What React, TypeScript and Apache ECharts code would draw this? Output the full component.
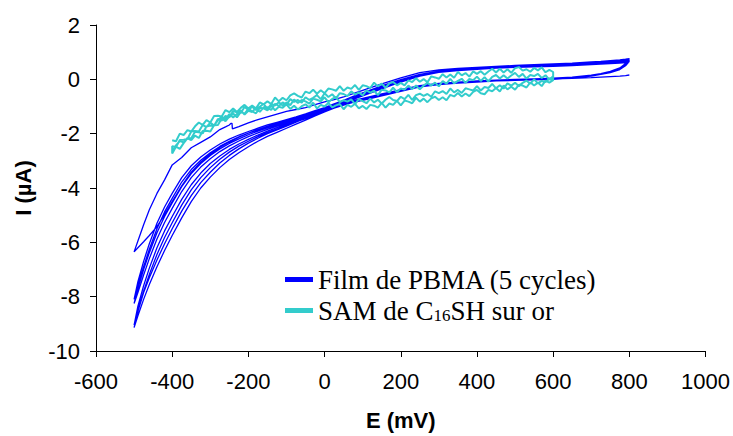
import React, { useEffect, useRef } from "react";
import * as echarts from "echarts";

// ---------- PBMA film, 5 cycles (E in mV, I in µA) ----------
// shared potential grid for the sweeps
const PB_E = [-500,-490,-475,-460,-440,-420,-400,-375,-350,-325,-300,-275,-250,-225,-200,-175,-150,-125,-100,-75,-50,-25,0,
  25,50,75,100,125,150,175,200,250,300,350,400,450,500,550,600,650,700,725,750,775,790,800];

// cathodic sweeps (read along E ascending, traversed 800 -> -500)
const C1_I = [-6.35,-6.2,-5.98,-5.75,-5.42,-4.98,-4.5,-3.92,-3.42,-3.05,-2.75,-2.5,-2.3,-2.13,-1.98,-1.85,-1.73,-1.62,-1.52,-1.42,-1.32,-1.2,-1.08,
  -0.98,-0.88,-0.79,-0.71,-0.63,-0.55,-0.47,-0.39,-0.25,-0.17,-0.12,-0.08,-0.05,-0.03,0.0,0.02,0.04,0.06,0.08,0.1,0.12,0.14,0.16];
const C2_I = [-8.1,-7.6,-6.9,-6.25,-5.5,-4.88,-4.38,-3.78,-3.32,-2.98,-2.7,-2.47,-2.28,-2.12,-1.98,-1.86,-1.74,-1.63,-1.53,-1.43,-1.32,-1.2,-1.08,
  -0.97,-0.87,-0.78,-0.7,-0.62,-0.54,-0.46,-0.38,-0.23,-0.15,-0.1,-0.06,-0.03,0.0,0.02,0.04,0.08,0.15,0.21,0.29,0.42,0.58,0.76];
const C3_I = [-8.25,-7.85,-7.2,-6.6,-5.88,-5.27,-4.75,-4.13,-3.62,-3.23,-2.92,-2.66,-2.45,-2.27,-2.11,-1.97,-1.84,-1.72,-1.61,-1.5,-1.38,-1.26,-1.12,
  -1.0,-0.9,-0.81,-0.73,-0.65,-0.57,-0.49,-0.4,-0.24,-0.17,-0.12,-0.08,-0.04,-0.02,0.0,0.02,0.07,0.14,0.2,0.27,0.39,0.54,0.72];
const C4_I = [-9.05,-8.5,-7.8,-7.18,-6.45,-5.82,-5.28,-4.63,-4.07,-3.62,-3.25,-2.94,-2.68,-2.46,-2.28,-2.11,-1.96,-1.83,-1.7,-1.57,-1.45,-1.31,-1.17,
  -1.03,-0.92,-0.83,-0.75,-0.67,-0.59,-0.51,-0.42,-0.26,-0.18,-0.13,-0.09,-0.05,-0.03,-0.01,0.01,0.06,0.13,0.19,0.26,0.37,0.52,0.69];
const C5_I = [-9.14,-8.7,-8.1,-7.55,-6.9,-6.3,-5.75,-5.1,-4.5,-4.0,-3.6,-3.25,-2.95,-2.7,-2.48,-2.28,-2.1,-1.95,-1.8,-1.65,-1.5,-1.35,-1.2,
  -1.06,-0.95,-0.85,-0.77,-0.69,-0.61,-0.53,-0.44,-0.28,-0.19,-0.14,-0.1,-0.06,-0.04,-0.02,0.0,0.05,0.12,0.18,0.25,0.36,0.5,0.66];

// first anodic sweep (own grid, with the small notch near -245 mV)
const A1_E = [-500,-490,-475,-460,-440,-420,-400,-375,-350,-325,-300,-275,-260,-250,-246,-243,-242,-225,-200,-175,
  -150,-125,-100,-75,-50,-25,0,25,50,75,100,125,150,175,200,250,300,350,400,450,500,550,600,650,700,725,750,775,790,800];
const A1_I = [-6.35,-5.95,-5.35,-4.8,-4.2,-3.7,-3.15,-2.88,-2.52,-2.32,-2.12,-1.85,-1.75,-1.68,-1.62,-1.62,-1.82,-1.74,-1.6,-1.48,
  -1.38,-1.28,-1.18,-1.11,-1.04,-0.93,-0.83,-0.75,-0.65,-0.53,-0.41,-0.29,-0.17,-0.06,0.05,0.25,0.35,0.4,0.44,0.48,0.51,0.54,0.57,0.6,0.64,0.66,0.69,0.72,0.74,0.76];

// anodic sweeps 2-5 (traversed -500 -> 800)
const A2_I = [-8.1,-7.45,-6.7,-6.05,-5.3,-4.7,-4.2,-3.62,-3.18,-2.86,-2.6,-2.38,-2.2,-2.05,-1.92,-1.8,-1.68,-1.58,-1.48,-1.38,-1.27,-1.15,-1.04,
  -0.9,-0.77,-0.63,-0.5,-0.37,-0.24,-0.12,-0.01,0.18,0.3,0.36,0.41,0.45,0.48,0.51,0.54,0.57,0.61,0.63,0.65,0.68,0.7,0.72];
const A3_I = [-8.25,-7.7,-7.0,-6.38,-5.65,-5.05,-4.55,-3.95,-3.47,-3.1,-2.8,-2.56,-2.36,-2.19,-2.04,-1.91,-1.79,-1.68,-1.57,-1.46,-1.35,-1.23,-1.1,
  -0.96,-0.82,-0.68,-0.54,-0.41,-0.28,-0.16,-0.04,0.16,0.29,0.35,0.4,0.44,0.47,0.5,0.52,0.55,0.58,0.6,0.62,0.65,0.67,0.69];
const A4_I = [-9.05,-8.35,-7.6,-6.95,-6.2,-5.58,-5.05,-4.42,-3.88,-3.45,-3.1,-2.82,-2.58,-2.38,-2.21,-2.05,-1.91,-1.78,-1.66,-1.54,-1.42,-1.29,-1.15,
  -1.0,-0.86,-0.72,-0.58,-0.45,-0.32,-0.19,-0.07,0.14,0.27,0.33,0.38,0.42,0.45,0.48,0.5,0.53,0.56,0.58,0.6,0.62,0.64,0.66];
const A5_I = [-9.14,-8.55,-7.85,-7.3,-6.65,-6.05,-5.5,-4.85,-4.28,-3.8,-3.42,-3.08,-2.8,-2.56,-2.35,-2.17,-2.0,-1.86,-1.72,-1.58,-1.43,-1.28,-1.14,
  -1.0,-0.87,-0.74,-0.61,-0.48,-0.35,-0.22,-0.1,0.12,0.26,0.32,0.37,0.41,0.44,0.46,0.48,0.51,0.54,0.56,0.58,0.6,0.62,0.64];

// ---------- SAM of C16SH on gold (noisy) ----------
const SAM_E = [-400,-390,-380,-370,-360,-350,-340,-330,-320,-310,-300,-290,-280,-270,-260,-250,-240,-230,-220,-210,
  -200,-190,-180,-170,-160,-150,-140,-130,-120,-110,-100,-90,-80,-70,-60,-50,-40,-30,-20,-10,
  0,10,20,30,40,50,60,70,80,90,100,110,120,130,140,150,160,170,180,190,
  200,210,220,230,240,250,260,270,280,290,300,310,320,330,340,350,360,370,380,390,
  400,410,420,430,440,450,460,470,480,490,500,510,520,530,540,550,560,570,580,590,600];
const SAM_U1 = [-2.24,-2.28,-2.0,-2.05,-1.87,-1.92,-1.73,-1.59,-1.68,-1.5,
  -1.59,-1.35,-1.34,-1.37,-1.13,-1.21,-1.07,-1.2,-1.05,-0.94,
  -1.07,-0.97,-1.07,-0.85,-0.92,-0.81,-0.91,-0.67,-0.81,-0.68,
  -0.77,-0.59,-0.52,-0.61,-0.67,-0.45,-0.51,-0.38,-0.53,-0.4,
  -0.51,-0.34,-0.37,-0.42,-0.25,-0.42,-0.3,-0.35,-0.21,-0.39,
  -0.22,-0.25,-0.32,-0.12,-0.26,-0.16,-0.31,-0.15,-0.1,-0.22,
  -0.13,-0.22,-0.04,-0.1,0.04,-0.09,0.01,-0.11,0.11,0.07,
  0.02,0.19,0.07,0.18,0.06,0.27,0.15,0.23,0.1,0.29,
  0.2,0.3,0.17,0.29,0.39,0.25,0.39,0.25,0.37,0.24,
  0.41,0.45,0.32,0.37,0.28,0.42,0.33,0.44,0.26,0.35,0.27];
const SAM_LW = [-2.73,-2.48,-2.56,-2.35,-2.17,-2.24,-2.07,-2.16,-1.9,-1.89,
  -1.92,-1.69,-1.68,-1.44,-1.54,-1.36,-1.26,-1.4,-1.2,-1.26,
  -1.09,-1.18,-1.25,-1.05,-1.07,-1.14,-0.97,-1.14,-1.01,-1.05,
  -0.92,-1.09,-0.97,-1.11,-0.99,-0.92,-1.04,-0.86,-1.07,-0.94,
  -1.0,-0.87,-1.03,-0.96,-0.91,-1.1,-0.94,-1.01,-0.9,-1.07,
  -0.98,-1.09,-0.94,-0.97,-1.04,-0.87,-1.04,-0.89,-0.94,-0.79,
  -0.96,-0.78,-0.82,-0.88,-0.68,-0.82,-0.71,-0.84,-0.7,-0.64,
  -0.76,-0.66,-0.77,-0.57,-0.63,-0.5,-0.63,-0.52,-0.62,-0.46,
  -0.39,-0.51,-0.55,-0.39,-0.44,-0.32,-0.45,-0.23,-0.37,-0.27,
  -0.38,-0.2,-0.23,-0.3,-0.11,-0.23,-0.12,-0.25,-0.05,-0.12,-0.03];
const SAM_U2 = [-2.46,-2.49,-2.23,-2.22,-2.2,-1.92,-1.9,-1.92,-1.68,-1.76,
  -1.59,-1.7,-1.51,-1.38,-1.46,-1.28,-1.4,-1.28,-1.14,-1.3,
  -1.16,-1.2,-1.04,-1.2,-1.03,-1.03,-1.13,-0.9,-0.98,-0.85,
  -0.94,-0.73,-0.83,-0.76,-0.86,-0.66,-0.76,-0.68,-0.58,-0.73,
  -0.51,-0.65,-0.55,-0.7,-0.51,-0.54,-0.62,-0.44,-0.56,-0.48,
  -0.59,-0.41,-0.49,-0.42,-0.58,-0.38,-0.41,-0.48,-0.31,-0.47,
  -0.34,-0.38,-0.23,-0.36,-0.23,-0.37,-0.23,-0.13,-0.23,-0.12,
  -0.26,-0.06,-0.16,0.02,-0.15,-0.06,0.02,-0.13,0.01,-0.03,
  0.1,-0.06,0.08,-0.08,0.09,0.16,0.03,0.15,0.03,0.14,
  0.24,0.09,0.2,0.03,0.16,0.12,0.2,0.05,0.15,-0.01,0.11];
const SAM_M = [-2.65,-2.43,-2.27,-2.32,-2.16,-2.17,-1.93,-1.95,-1.99,-1.74,
  -1.7,-1.71,-1.46,-1.52,-1.35,-1.4,-1.17,-1.21,-1.24,-1.02,
  -1.13,-1.01,-1.13,-1.01,-0.9,-1.09,-0.91,-0.96,-0.84,-0.96,
  -0.85,-0.95,-0.74,-0.87,-0.76,-0.81,-0.89,-0.71,-0.75,-0.81,
  -0.66,-0.84,-0.72,-0.65,-0.84,-0.77,-0.82,-0.74,-0.91,-0.73,
  -0.8,-0.88,-0.71,-0.85,-0.75,-0.89,-0.75,-0.65,-0.76,-0.8,
  -0.64,-0.73,-0.57,-0.76,-0.58,-0.53,-0.61,-0.54,-0.64,-0.44,
  -0.51,-0.43,-0.54,-0.34,-0.48,-0.39,-0.5,-0.33,-0.37,-0.41,
  -0.25,-0.41,-0.28,-0.32,-0.17,-0.33,-0.22,-0.34,-0.15,-0.23,
  -0.13,-0.25,-0.13,-0.05,-0.16,0.0,-0.15,-0.06,-0.1,0.02,-0.04];

const X_MIN = -600, X_MAX = 1000, X_STEP = 200;
const Y_MIN = -10, Y_MAX = 2, Y_STEP = 2;
const PBMA_NAME = "Film de PBMA (5 cycles)";
const SAM_NAME = "SAM de C16SH sur or";

const pairs = (E: number[], I: number[]) => E.map((e, i) => [e, I[i]]);
const rev = (a: number[][]) => a.slice().reverse();

export default function App() {
  const ref = useRef<HTMLDivElement>(null);
  useEffect(() => {
    const chart = echarts.init(ref.current!, null, { renderer: "svg" });
    const pbma = [
      ...rev(pairs(PB_E, C1_I)), ...pairs(A1_E, A1_I),
      ...rev(pairs(PB_E, C2_I)), ...pairs(PB_E, A2_I),
      ...rev(pairs(PB_E, C3_I)), ...pairs(PB_E, A3_I),
      ...rev(pairs(PB_E, C4_I)), ...pairs(PB_E, A4_I),
      ...rev(pairs(PB_E, C5_I)), ...pairs(PB_E, A5_I),
    ];
    const sam = [
      ...pairs(SAM_E, SAM_U1), ...rev(pairs(SAM_E, SAM_LW)),
      ...pairs(SAM_E, SAM_U2), ...rev(pairs(SAM_E, SAM_M)),
    ];
    const axisFont = { fontFamily: "Liberation Sans", fontSize: 22, color: "#000" };
    chart.setOption({
      animation: false,
      backgroundColor: "#fff",
      grid: { left: 96, right: 27, top: 25, bottom: 85 },
      xAxis: {
        type: "value", min: X_MIN, max: X_MAX, interval: X_STEP,
        name: "E (mV)", nameLocation: "middle", nameGap: 58,
        nameTextStyle: { ...axisFont, fontWeight: "bold" },
        axisLine: { show: true, onZero: false, lineStyle: { color: "#000", width: 1 } },
        axisTick: { show: true, length: 6, lineStyle: { color: "#000" } },
        axisLabel: { ...axisFont, margin: 19, formatter: (v: number) => String(v) },
        splitLine: { show: false },
      },
      yAxis: {
        type: "value", min: Y_MIN, max: Y_MAX, interval: Y_STEP,
        name: "I (µA)", nameLocation: "middle", nameGap: 62, nameRotate: 90,
        nameTextStyle: { ...axisFont, fontWeight: "bold" },
        axisLine: { show: true, onZero: false, lineStyle: { color: "#000", width: 1 } },
        axisTick: { show: true, length: 6, lineStyle: { color: "#000" } },
        axisLabel: { ...axisFont, margin: 16, formatter: (v: number) => String(v) },
        splitLine: { show: false },
      },
      legend: {
        orient: "vertical", left: 285, top: 266, padding: 0, itemGap: 4,
        itemWidth: 28, itemHeight: 5, icon: "rect",
        data: [PBMA_NAME, SAM_NAME],
        formatter: (name: string) =>
          name === SAM_NAME ? "{a|SAM de C}{b|16}{a|SH sur or}" : "{a|" + name + "}",
        textStyle: {
          fontFamily: "Liberation Serif", fontSize: 27, color: "#000",
          rich: {
            a: { fontFamily: "Liberation Serif", fontSize: 27, lineHeight: 26, color: "#000" },
            b: { fontFamily: "Liberation Serif", fontSize: 17, lineHeight: 14, verticalAlign: "bottom", color: "#000" },
          },
        },
      },
      series: [
        {
          name: PBMA_NAME, type: "line", data: pbma, showSymbol: false, symbol: "none",
          lineStyle: { color: "#0000FF", width: 1.3 }, itemStyle: { color: "#0000FF" },
        },
        {
          name: SAM_NAME, type: "line", data: sam, showSymbol: false, symbol: "none",
          lineStyle: { color: "#33CCCC", width: 2 }, itemStyle: { color: "#33CCCC" },
        },
      ],
    });
    return () => chart.dispose();
  }, []);
  return (
    <div
      ref={ref}
      style={{ position: "fixed", left: 0, top: 0, width: 733, height: 436, background: "#fff" }}
    />
  );
}
